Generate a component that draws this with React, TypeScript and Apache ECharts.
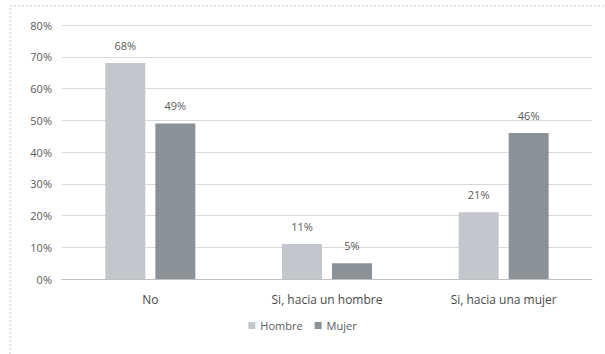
import React, { useEffect, useRef } from "react";
import * as echarts from "echarts";

const categories = ["No", "Si, hacia un hombre", "Si, hacia una mujer"];
const hombre = [68, 11, 21];
const mujer = [49, 5, 46];
const seriesNames = ["Hombre", "Mujer"];

export default function App() {
  const ref = useRef<HTMLDivElement>(null);
  useEffect(() => {
    const chart = echarts.init(ref.current!, null, { renderer: "svg" });
    const font = "'Open Sans', 'DejaVu Sans', sans-serif";
    chart.setOption({
      animation: false,
      backgroundColor: "#ffffff",
      textStyle: { fontFamily: font },
      graphic: [
        {
          type: "rect",
          shape: { x: 10, y: 6, width: 600, height: 360 },
          style: { fill: "none", stroke: "#c8c8c8", lineWidth: 1, lineDash: [2, 2] },
          silent: true,
        },
      ],
      grid: { left: 62, right: 13, top: 25, bottom: 75 },
      legend: {
        bottom: 18,
        left: "center",
        itemWidth: 7,
        itemHeight: 7,
        itemGap: 12,
        textStyle: { color: "#5a5a5a", fontSize: 11, fontFamily: font },
        data: seriesNames,
        icon: "rect",
      },
      xAxis: {
        type: "category",
        data: categories,
        axisLine: { lineStyle: { color: "#c0c0c0" } },
        axisTick: { show: false },
        axisLabel: { color: "#4a4a4a", fontSize: 12, margin: 14, fontFamily: font },
      },
      yAxis: {
        type: "value",
        min: 0,
        max: 80,
        interval: 10,
        axisLine: { show: false },
        axisTick: { show: false },
        axisLabel: { formatter: "{value}%", color: "#5a5a5a", fontSize: 11, margin: 10, fontFamily: font },
        splitLine: { lineStyle: { color: "#d8d8d8" } },
      },
      series: [
        {
          name: seriesNames[0],
          type: "bar",
          data: hombre,
          barWidth: 40,
          barGap: "25%",
          itemStyle: { color: "#c3c6ca" },
          label: { show: true, position: "top", formatter: "{c}%", color: "#5a5a5a", fontSize: 11, distance: 12, fontFamily: font },
        },
        {
          name: seriesNames[1],
          type: "bar",
          data: mujer,
          barWidth: 40,
          itemStyle: { color: "#8c9196" },
          label: { show: true, position: "top", formatter: "{c}%", color: "#5a5a5a", fontSize: 11, distance: 12, fontFamily: font },
        },
      ],
    });
    return () => chart.dispose();
  }, []);
  return <div ref={ref} style={{ width: 605, height: 354, position: "absolute", left: 0, top: 0 }} />;
}
